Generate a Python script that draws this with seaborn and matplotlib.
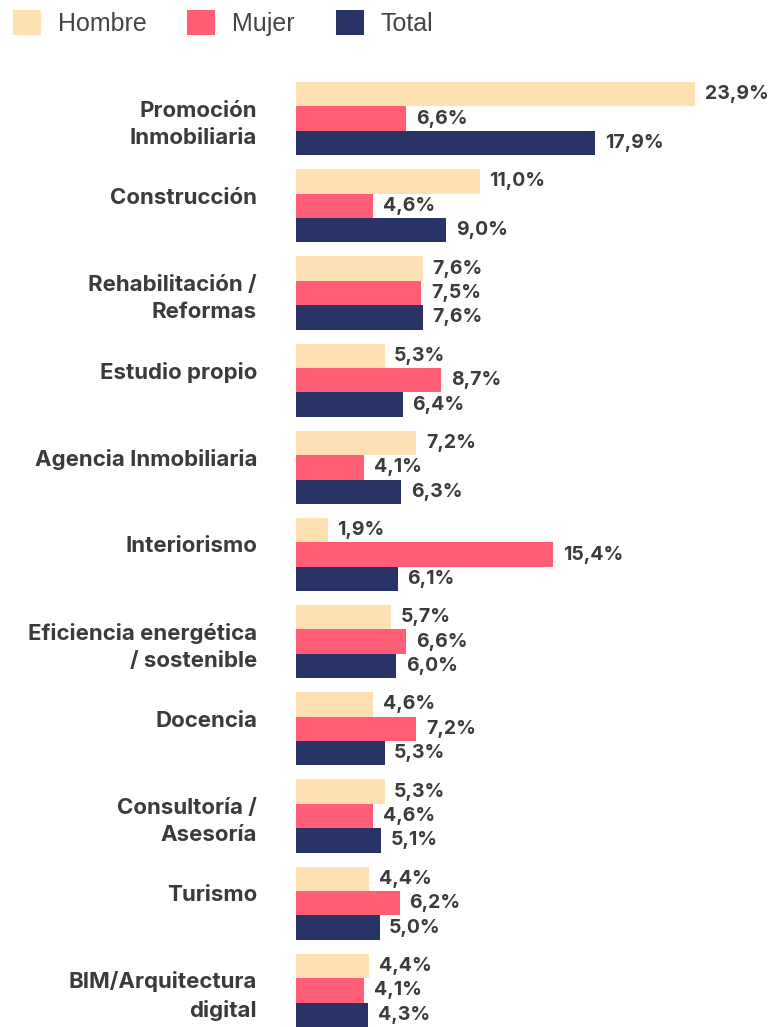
import numpy as np
import pandas as pd
import matplotlib
matplotlib.use("Agg")
import matplotlib.pyplot as plt
import seaborn as sns
from matplotlib.patches import Patch

# data
categories = ["Promoción\nInmobiliaria", "Construcción", "Rehabilitación /\nReformas",
              "Estudio propio", "Agencia Inmobiliaria", "Interiorismo",
              "Eficiencia energética\n/ sostenible", "Docencia", "Consultoría /\nAsesoría",
              "Turismo", "BIM/Arquitectura\ndigital"]
hombre = [23.9, 11.0, 7.6, 5.3, 7.2, 1.9, 5.7, 4.6, 5.3, 4.4, 4.4]
mujer = [6.6, 4.6, 7.5, 8.7, 4.1, 15.4, 6.6, 7.2, 4.6, 6.2, 4.1]
total = [17.9, 9.0, 7.6, 6.4, 6.3, 6.1, 6.0, 5.3, 5.1, 5.0, 4.3]
series = ["Hombre", "Mujer", "Total"]
colors = ["#ffe0b3", "#ff5e76", "#293466"]

df = pd.DataFrame({"cat": categories, "Hombre": hombre, "Mujer": mujer, "Total": total})
long_df = df.melt(id_vars="cat", var_name="serie", value_name="valor")

sns.set_theme(style="white")
plt.rcParams['font.family'] = ['Inter', 'DejaVu Sans']

fig = plt.figure(figsize=(7.74, 10.27), dpi=100)
ax = fig.add_axes([296/774, 0.0, 1 - 296/774, 1 - 82/1027])

sns.barplot(data=long_df, y="cat", x="valor", hue="serie", hue_order=series,
            palette=colors, order=categories, orient="h", width=0.84,
            saturation=1, legend=False, linewidth=0, ax=ax)

for cont in ax.containers:
    vals = [b.get_width() for b in cont]
    ax.bar_label(cont, labels=[f"{v:.1f}%".replace(".", ",") for v in vals],
                 padding=7, fontsize=14, fontweight="bold", color="#3b3b3b")

ax.set_xlim(0, 478 / 16.7)
ax.set_ylim(10.42, -0.42)
ax.set_xlabel("")
ax.set_ylabel("")
ax.set_xticks([])
# single-line names sit on the upper line, like the two-line ones
ax.set_yticks(range(len(categories)),
              labels=[c if "\n" in c else c + "\n" for c in categories])
sns.despine(ax=ax, left=True, bottom=True)
ax.tick_params(axis="y", length=0, pad=28)
for lbl in ax.get_yticklabels():
    lbl.set_fontsize(16)
    lbl.set_fontweight("bold")
    lbl.set_color("#3b3b3b")
    lbl.set_linespacing(1.45)

handles = [Patch(facecolor=c, edgecolor="none") for c in colors]
fig.legend(handles, series, loc="upper left", bbox_to_anchor=(-0.012, 1.012), ncol=3,
           frameon=False, handlelength=1.12, handleheight=1.12,
           handletextpad=0.66, columnspacing=1.64, labelcolor="#444444",
           prop={"family": ["Liberation Sans", "DejaVu Sans"], "size": 18})

fig.savefig("out.png", dpi=100)
